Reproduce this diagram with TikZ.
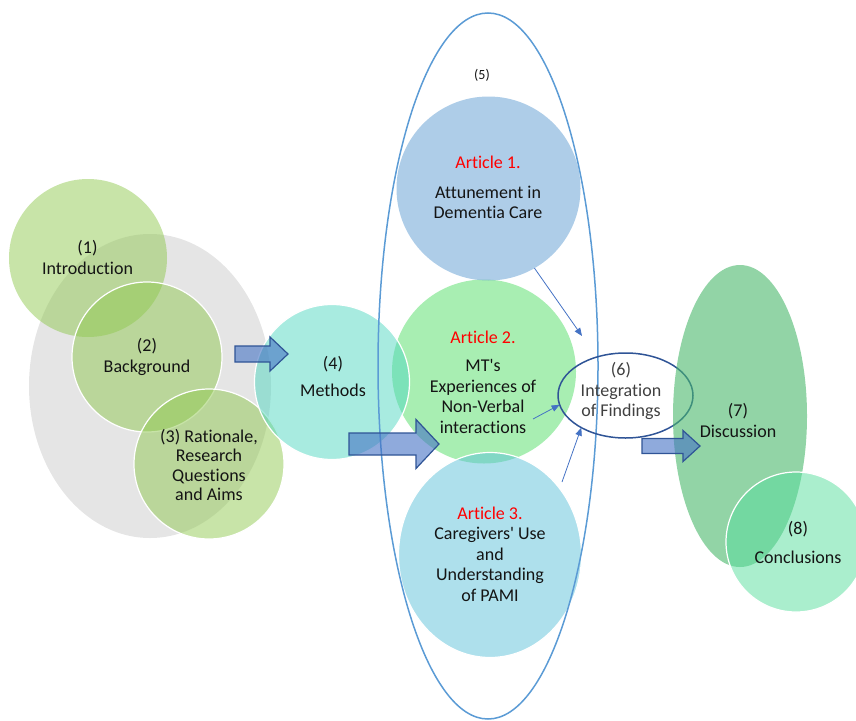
\documentclass[tikz,border=0pt]{standalone}
\usepackage{fontspec}
\setmainfont{Carlito}[Ligatures={CommonOff,TeXOff}]
\usetikzlibrary{arrows.meta,shapes.geometric}
\definecolor{bggray}{RGB}{229,229,229}
\definecolor{leaf}{RGB}{145,201,81}
\definecolor{teal4}{RGB}{81,215,193}
\definecolor{blue1}{RGB}{93,155,209}
\definecolor{green2}{RGB}{81,221,101}
\definecolor{cyan3}{RGB}{93,193,217}
\definecolor{disc}{RGB}{73,183,107}
\definecolor{concl}{RGB}{85,221,155}
\definecolor{outerblue}{RGB}{91,155,213}
\definecolor{darkblue}{RGB}{47,84,150}
\definecolor{arrowblue}{RGB}{68,114,196}
\definecolor{txtgray}{RGB}{64,64,64}
\definecolor{titlered}{RGB}{255,0,0}
\newcommand{\blockarrow}[6]{% tail x, centre y, head x, tip x, body half, head half
  \filldraw[blk] (#1,#2-#5) -- (#3,#2-#5) -- (#3,#2-#6) -- (#4,#2) -- (#3,#2+#6) -- (#3,#2+#5) -- (#1,#2+#5) -- cycle;}
\begin{document}
\begin{tikzpicture}[x=1pt,y=-1pt,
  shp/.style={inner sep=0pt, outer sep=0pt},
  blob/.style={shp, circle, minimum size=#1},
  oval/.style={shp, ellipse},
  wline/.style={draw=white, line width=1.2pt},
  lbl/.style={font=\fontsize{18}{20.5}\selectfont, align=center, text=black!92, inner sep=0pt},
  thinarrow/.style={draw=arrowblue, line width=0.8pt, -{Triangle[length=8pt,width=6.5pt]}},
  blk/.style={fill=arrowblue, fill opacity=0.6, draw=darkblue, line width=1.2pt, line join=miter},
]
\useasboundingbox (0,0) rectangle (856,720);

% left cluster
\node[oval, fill=bggray, minimum width=242pt, minimum height=304pt] (bg) at (150,386) {};
\node[blob=158pt, fill=leaf, fill opacity=0.5] (c1) at (88,258) {};
\node[blob=150pt, fill=leaf, fill opacity=0.5, wline] (c2) at (147,357) {};
\node[blob=150pt, fill=leaf, fill opacity=0.5, wline] (c3) at (209,464) {};

% articles
\node[blob=184pt, fill=green2, fill opacity=0.5] (art2) at (484,371.5) {};
\node[blob=184pt, fill=blue1, fill opacity=0.5] (art1) at (488.5,188.5) {};
\node[oval, minimum width=183pt, minimum height=205pt, fill=cyan3, fill opacity=0.5, wline] (art3) at (490,555) {};

% methods
\node[blob=155pt, fill=teal4, fill opacity=0.5, wline] (meth) at (332,382) {};

% big outer ellipse (5)
\node[oval, minimum width=220pt, minimum height=706pt, draw=outerblue, line width=1.5pt] (outer) at (488,366) {};

% integration ellipse (6)
\node[oval, minimum width=135pt, minimum height=85pt, draw=darkblue, line width=1.5pt] (integ) at (625.5,395.5) {};

% discussion and conclusions
\node[oval, minimum width=134pt, minimum height=302pt, fill=disc, fill opacity=0.6] (disc) at (740,416) {};
\node[blob=140pt, fill=concl, fill opacity=0.5, wline] (concl) at (796,542) {};

% block arrows
\blockarrow{235}{354}{270}{288}{8}{17}
\blockarrow{349}{444}{416}{439}{11}{24.5}
\blockarrow{642}{446}{683}{700}{7.5}{15.5}

% thin arrows
\coordinate (t1) at (582,336);
\coordinate (s2) at (533,419);
\coordinate (s3) at (562,482);
\draw[thinarrow] (art1.-60) -- (t1);
\draw[thinarrow] (s2) -- (integ.188);
\draw[thinarrow] (s3) -- (integ.216);

% labels
\node[lbl] (l1) at (87.5,257.5) {(1)\\Introduction};
\node[lbl] (l2) at (147,357) {(2)\\Background};
\node[lbl, font=\fontsize{18}{19.3}\selectfont] (l3) at (209,465) {(3) Rationale,\\Research\\Questions\\and Aims};
\node[lbl] (l4) at (333,376.5) {(4)\\[6.5pt]Methods};
\node[lbl, font=\fontsize{14}{16}\selectfont] (l5) at (482,75) {(5)};
\node[lbl] (la1) at (488,187.5) {\textcolor{titlered}{Article 1.}\\[9.5pt]Attunement in\\Dementia Care};
\node[lbl] (la2) at (483,382.5) {\textcolor{titlered}{Article 2.}\\[7.5pt]MT's\\Experiences of\\Non-Verbal\\interactions};
\node[lbl] (la3) at (490,554) {\textcolor{titlered}{Article 3.}\\Caregivers' Use\\and\\Understanding\\of PAMI};
\node[lbl, text=txtgray] (l6) at (621,391) {(6)\\Integration\\of Findings};
\node[lbl] (l7) at (738,420.5) {(7)\\Discussion};
\node[lbl] (l8) at (798,542.5) {(8)\\[8.5pt]Conclusions};
\end{tikzpicture}
\end{document}
